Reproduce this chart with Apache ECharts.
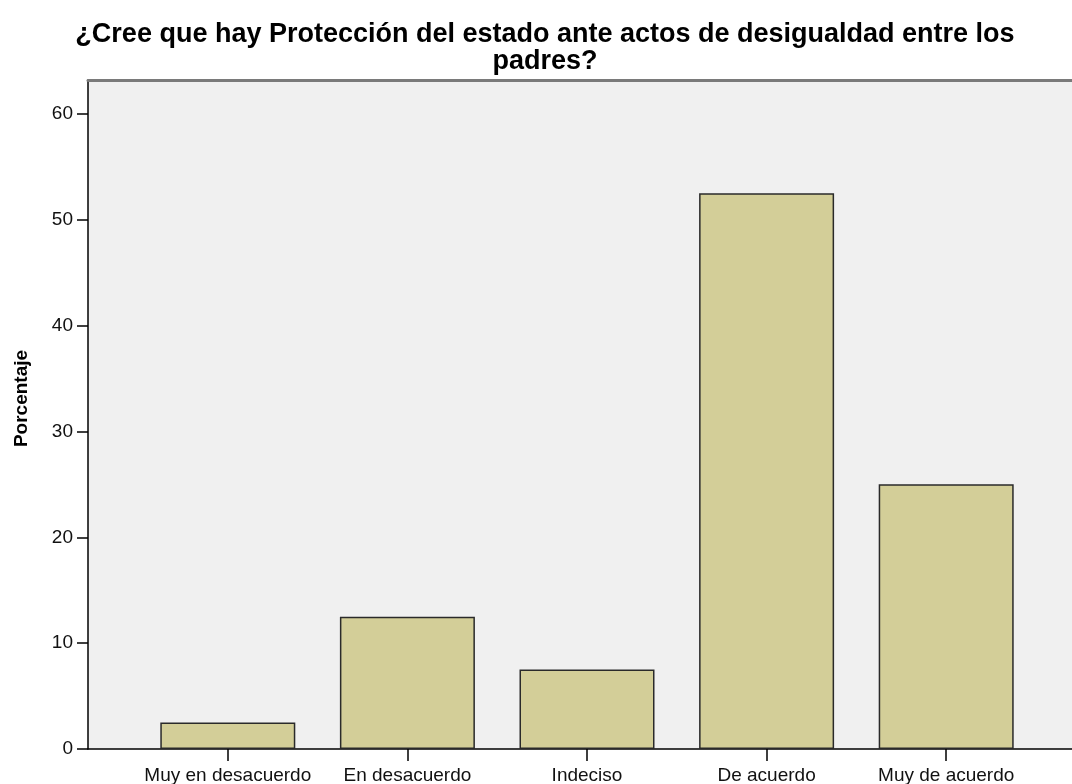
<!DOCTYPE html>
<html>
<head>
<meta charset="utf-8">
<script src="https://cdn.jsdelivr.net/npm/echarts@6/dist/echarts.min.js"></script>
<style>
  html, body { margin: 0; padding: 0; background: #fff; }
  #container { width: 1072px; height: 784px; }
</style>
</head>
<body>
<div id="container"></div>
<script>
var categories = ['Muy en desacuerdo', 'En desacuerdo', 'Indeciso', 'De acuerdo', 'Muy de acuerdo'];
var porcentaje = [2.5, 12.5, 7.5, 52.5, 25.0];
var yTicks = [0, 10, 20, 30, 40, 50, 60];
var yMax = 63.2;

var myChart = echarts.init(document.getElementById('container'));
var font = 'Arial, "Liberation Sans", sans-serif';

var option = {
    animation: false,
    title: {
        text: '¿Cree que hay Protección del estado ante actos de desigualdad entre los\npadres?',
        left: 540,
        textAlign: 'center',
        top: 16,
        textStyle: {
            fontFamily: font,
            fontSize: 27,
            fontWeight: 'bold',
            color: '#000',
            lineHeight: 27
        }
    },
    grid: [
        // plot background + y axis
        { left: 88, right: 0, top: 80, bottom: 35, show: true, backgroundColor: '#f0f0f0', borderWidth: 0, outerBoundsMode: 'none', containLabel: false },
        // bars
        { left: 138, right: 36, top: 80, bottom: 35, outerBoundsMode: 'none', containLabel: false }
    ],
    xAxis: [
        {
            gridIndex: 0, type: 'value', min: 0, max: 1, position: 'bottom',
            axisLine: { show: true, lineStyle: { color: '#000', width: 1.5 } },
            axisTick: { show: false }, axisLabel: { show: false }, splitLine: { show: false }
        },
        {
            gridIndex: 0, type: 'value', min: 0, max: 1, position: 'top',
            axisLine: { show: true, lineStyle: { color: '#7a7a7a', width: 3 } },
            axisTick: { show: false }, axisLabel: { show: false }, splitLine: { show: false }
        },
        {
            gridIndex: 1, type: 'category', data: categories, boundaryGap: true,
            axisLine: { show: false },
            axisTick: { show: true, alignWithLabel: true, length: 12, lineStyle: { color: '#000', width: 1.5 } },
            axisLabel: { fontFamily: font, fontSize: 19, color: '#111', margin: 17, interval: 0 }
        }
    ],
    yAxis: [
        {
            gridIndex: 0, type: 'value', min: 0, max: yMax,
            name: 'Porcentaje', nameLocation: 'middle', nameGap: 57,
            nameTextStyle: { fontFamily: font, fontSize: 19, fontWeight: 'bold', color: '#000', padding: [0, 0, 0, 32] },
            axisLine: { show: true, lineStyle: { color: '#000', width: 1.5 } },
            axisTick: { show: true, length: 11, customValues: yTicks, lineStyle: { color: '#000', width: 1.5 } },
            axisLabel: { fontFamily: font, fontSize: 19, color: '#111', margin: 15, customValues: yTicks },
            splitLine: { show: false }
        },
        {
            gridIndex: 1, type: 'value', min: 0, max: yMax, show: false, splitLine: { show: false }
        }
    ],
    series: [
        {
            name: 'Porcentaje',
            type: 'bar',
            xAxisIndex: 2,
            yAxisIndex: 1,
            barWidth: 135,
            data: porcentaje,
            itemStyle: { color: '#d3ce98', borderColor: '#2a2a2a', borderWidth: 1.5 }
        }
    ]
};

myChart.setOption(option, true);
window.onresize = function () {
    myChart.resize();
};
</script>
</body>
</html>
